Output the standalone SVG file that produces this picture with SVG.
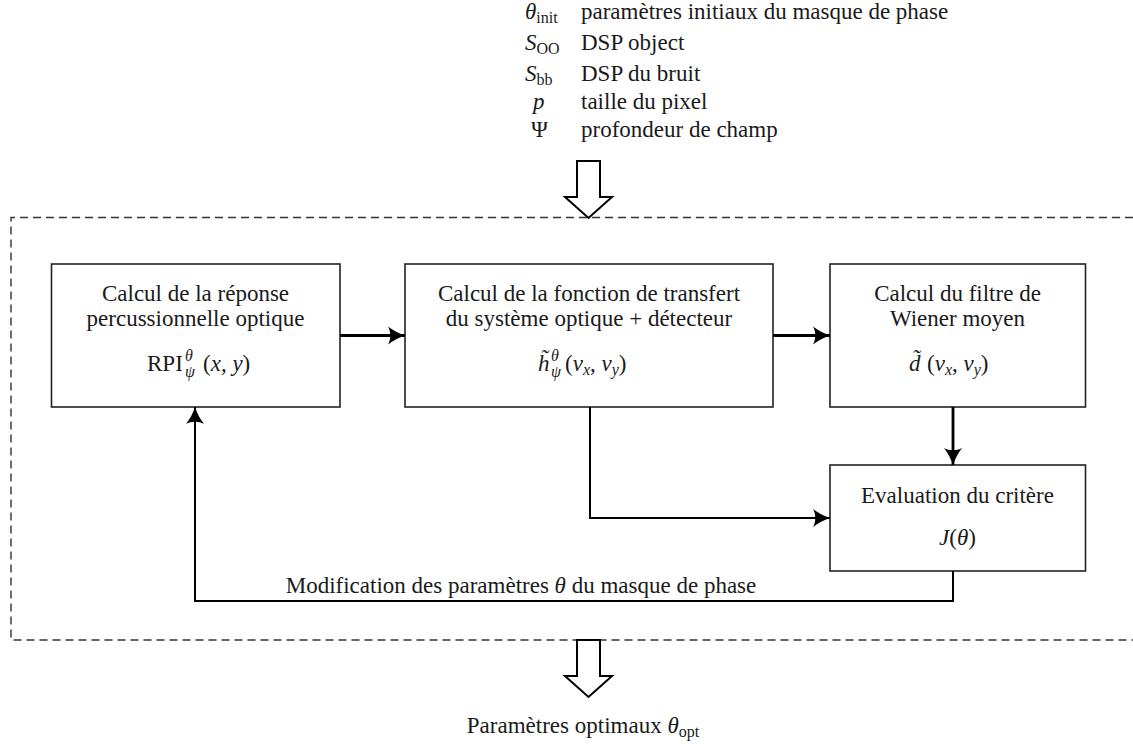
<svg xmlns="http://www.w3.org/2000/svg" width="1133" height="744" viewBox="0 0 1133 744" font-family="'Liberation Serif', Tinos, 'Times New Roman', Times, 'DejaVu Serif', serif">
<style>
text{font-family:'Liberation Serif',Tinos,'Times New Roman',Times,'DejaVu Serif',serif;font-size:23px;fill:#1a1a1a}
.c{text-anchor:middle}
.i{font-style:italic}
.s{font-size:16px}
.box{fill:#fff;stroke:#222;stroke-width:1.6}
.con{fill:none;stroke:#000;stroke-width:2.8}
.thin{stroke-width:2}
.hollow{fill:#fff;stroke:#000;stroke-width:2;stroke-linejoin:miter}
.frame{fill:none;stroke:#333;stroke-width:1.4;stroke-dasharray:8 5}
</style>
<defs>
<marker id="ah" markerUnits="userSpaceOnUse" markerWidth="22" markerHeight="22" viewBox="-20 -11 22 22" refX="0" refY="0" orient="auto">
<path d="M0,0 C-6,-2 -12,-5 -17,-9 C-14,-4 -14,4 -17,9 C-12,5 -6,2 0,0 Z" fill="#000"/>
</marker>
</defs>

<g id="legend">
<text x="525" y="19"><tspan class="i">θ</tspan><tspan class="s" dy="4">init</tspan></text>
<text x="581" y="19">paramètres initiaux du masque de phase</text>
<text x="525" y="50"><tspan class="i">S</tspan><tspan class="s" dy="4">OO</tspan></text>
<text x="581" y="50">DSP object</text>
<text x="525" y="81"><tspan class="i">S</tspan><tspan class="s" dy="4">bb</tspan></text>
<text x="581" y="81">DSP du bruit</text>
<text x="533" y="109" class="i">p</text>
<text x="581" y="109">taille du pixel</text>
<text x="531" y="137">Ψ</text>
<text x="581" y="137">profondeur de champ</text>
</g>

<g id="frame">
<path class="frame" d="M1133,217.5 H11 V640 H1133"/>
</g>

<g id="input-arrow">
<polygon class="hollow" points="577,161 600,161 600,197 612,197 588.5,218 565,197 577,197"/>
</g>

<g id="node-rpi">
<rect class="box" x="51.5" y="264" width="288.5" height="143"/>
<text class="c" x="195.5" y="301">Calcul de la réponse</text>
<text class="c" x="195.5" y="326">percussionnelle optique</text>
<text x="147" y="371">RPI<tspan class="s i" x="185" y="361">θ</tspan><tspan class="s i" x="185" y="377">ψ</tspan><tspan x="203" y="371">(</tspan><tspan class="i">x</tspan>, <tspan class="i">y</tspan>)</text>
</g>

<g id="node-transfert">
<rect class="box" x="405" y="264" width="368" height="143"/>
<text class="c" x="589" y="301">Calcul de la fonction de transfert</text>
<text class="c" x="589" y="326">du système optique + détecteur</text>
<text x="538" y="371"><tspan class="i">h̃</tspan><tspan class="s i" x="551" y="361">θ</tspan><tspan class="s i" x="551" y="377">ψ</tspan><tspan x="565" y="371">(</tspan><tspan class="i">ν</tspan><tspan class="s i" dy="4">x</tspan><tspan dy="-4">, </tspan><tspan class="i">ν</tspan><tspan class="s i" dy="4">y</tspan><tspan dy="-4">)</tspan></text>
</g>

<g id="node-wiener">
<rect class="box" x="830" y="264" width="255.5" height="143"/>
<text class="c" x="957.5" y="301">Calcul du filtre de</text>
<text class="c" x="957.5" y="326">Wiener moyen</text>
<text x="909" y="371"><tspan class="i">d̃</tspan><tspan x="927">(</tspan><tspan class="i">ν</tspan><tspan class="s i" dy="4">x</tspan><tspan dy="-4">, </tspan><tspan class="i">ν</tspan><tspan class="s i" dy="4">y</tspan><tspan dy="-4">)</tspan></text>
</g>

<g id="node-critere">
<rect class="box" x="830" y="465" width="255.5" height="106"/>
<text class="c" x="957.5" y="503">Evaluation du critère</text>
<text class="c" x="957.5" y="545"><tspan class="i">J</tspan>(<tspan class="i">θ</tspan>)</text>
</g>

<g id="connectors">
<path class="con" d="M340,335.5 H405" marker-end="url(#ah)"/>
<path class="con" d="M773,335.5 H830" marker-end="url(#ah)"/>
<path class="con" d="M953,407 V465" marker-end="url(#ah)"/>
<path class="con thin" d="M590,407 V518 H830" marker-end="url(#ah)"/>
<path class="con thin" d="M953,571 V601 H195 V407" marker-end="url(#ah)"/>
<text class="c" x="521" y="593">Modification des paramètres <tspan class="i">θ</tspan> du masque de phase</text>
</g>

<g id="output-arrow">
<polygon class="hollow" points="577,640 600,640 600,676 612,676 588.5,697 565,676 577,676"/>
<text class="c" x="583" y="733">Paramètres optimaux <tspan class="i">θ</tspan><tspan class="s" dy="4">opt</tspan></text>
</g>
</svg>
